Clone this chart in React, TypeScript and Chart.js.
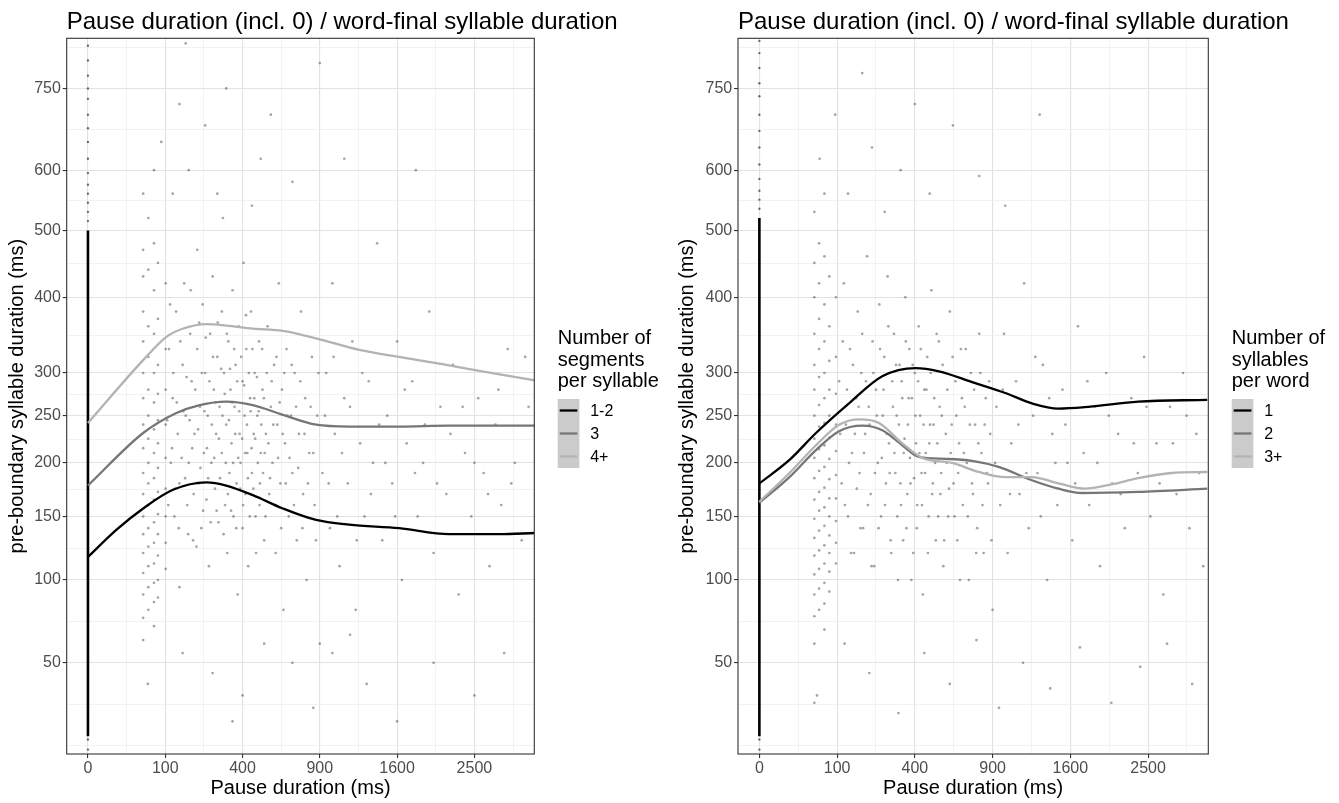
import { useEffect, useRef } from "react";
import { Chart, registerables } from "chart.js";

Chart.register(...registerables);

const FONT = "'Liberation Sans', Arial, Helvetica, sans-serif";

type Pt = [number, number];

// axis breaks (ms), both axes use a square-root scale
const X_BREAKS = [0, 100, 400, 900, 1600, 2500];
const Y_BREAKS = [50, 100, 150, 200, 250, 300, 400, 500, 600, 750];
const X_LIMITS = [-2.75, 57.75]; // sqrt(ms)
const Y_LIMITS = [3.845, 29.16]; // sqrt(ms)

const TITLE = "Pause duration (incl. 0) / word-final syllable duration";
const X_TITLE = "Pause duration (ms)";
const Y_TITLE = "pre-boundary syllable duration (ms)";

// ---- left panel: segments per syllable ----
const SEG_LABELS = ["1-2", "3", "4+"];
const SEG_12: Pt[] = [[0, 117], [14, 139], [51, 157], [121, 174], [235, 181], [320, 178], [455, 169], [636, 157], [871, 147], [1143, 143], [1621, 140], [2182, 135], [2826, 135], [3343, 136]];
const SEG_3: Pt[] = [[0, 178], [51, 231], [131, 253], [209, 262], [320, 266], [455, 262], [636, 251], [871, 240], [1143, 238], [1621, 238], [2182, 239], [2826, 239], [3343, 239]];
const SEG_4: Pt[] = [[0, 242], [51, 316], [103, 346], [152, 357], [235, 363], [320, 361], [455, 357], [636, 354], [871, 344], [1232, 329], [1621, 320], [2103, 311], [2603, 302], [3343, 291]];

const LEFT_ZERO_TOP = 500;
const LEFT_ZERO_DOTS = [16, 19, 515, 530, 545, 560, 575, 595, 620, 650, 675, 700, 730, 750, 775, 805, 835];
const LEFT_STREAKS: [number, number[]][] = [
  [51, [560, 470, 430, 380, 340, 300, 270, 240, 215, 190, 170, 150, 135, 120, 105, 90, 75, 62]],
  [61, [520, 440, 360, 320, 280, 250, 225, 200, 180, 160, 140, 125, 110, 95, 80]],
  [73, [600, 480, 410, 350, 300, 265, 235, 210, 185, 165, 145, 128, 112, 98, 85, 70]],
  [82, [450, 370, 310, 275, 245, 220, 195, 172, 152, 135, 118, 100, 88]],
  [101, [420, 330, 280, 240, 205, 175, 150, 128, 108]],
];
const LEFT_CLOUD: Pt[] = [
  [110, 330], [115, 200], [120, 560], [120, 270], [125, 150], [130, 380], [135, 230], [140, 180], [140, 95], [150, 310], [155, 420], [160, 250], [165, 160], [170, 200], [175, 350], [180, 290], [185, 130], [190, 230], [200, 470], [200, 330], [205, 180], [210, 260], [215, 140], [220, 390], [225, 210], [230, 300], [235, 165], [240, 250], [245, 110], [250, 350], [255, 200], [260, 430], [265, 280], [270, 175], [275, 230], [280, 320], [285, 145], [290, 260], [300, 380], [300, 210], [305, 520], [310, 300], [315, 160], [320, 240], [325, 120], [330, 340], [335, 190], [340, 280], [345, 220], [350, 410], [355, 150], [360, 260], [365, 310], [370, 180], [375, 90], [380, 360], [385, 230], [390, 200], [400, 290], [400, 140], [405, 450], [410, 250], [415, 170], [420, 330], [425, 210], [430, 110], [440, 270], [445, 380], [450, 190], [460, 230], [465, 300], [470, 150], [480, 250], [490, 340], [495, 180], [500, 620], [500, 210], [510, 280], [520, 130], [530, 230], [540, 360], [550, 170], [560, 260], [570, 200], [580, 310], [590, 120], [600, 240], [610, 420], [620, 180], [630, 280], [640, 80], [650, 220], [660, 330], [675, 150], [690, 250], [700, 190], [715, 300], [730, 130], [745, 230], [760, 380], [775, 170], [790, 270], [800, 100], [820, 210], [840, 320], [860, 160], [880, 250], [900, 60],
  [105, 245], [108, 160], [113, 390], [118, 215], [122, 300], [127, 175], [132, 265], [138, 140], [143, 340], [147, 205], [152, 255], [158, 185], [163, 295], [168, 135], [173, 245], [177, 410], [182, 215], [187, 170], [193, 280], [197, 125], [203, 235], [207, 365], [212, 195], [217, 300], [222, 155], [227, 255], [232, 345], [237, 215], [242, 185], [247, 290], [252, 145], [257, 240], [262, 320], [267, 205], [272, 265], [277, 155], [282, 365], [287, 225], [292, 185], [297, 305], [303, 250], [308, 135], [313, 275], [318, 200], [323, 350], [328, 170], [333, 245], [338, 305], [343, 155], [348, 265], [353, 200], [358, 330], [363, 230], [368, 140], [373, 290], [378, 205], [383, 255], [388, 175], [393, 320], [398, 225], [403, 160], [408, 285], [413, 210], [418, 375], [423, 240], [428, 185], [433, 300], [438, 150], [443, 255], [448, 215], [453, 330], [458, 175], [463, 270], [468, 225], [473, 120], [478, 295], [483, 200], [488, 255], [493, 160], [503, 240], [508, 330], [513, 190], [518, 270], [523, 210], [528, 150], [535, 300], [545, 220], [555, 185], [565, 290], [575, 240], [585, 160], [595, 320], [605, 205], [615, 265], [625, 140], [635, 230], [645, 300], [655, 180], [665, 250], [680, 205], [695, 310], [710, 160], [725, 260], [740, 195], [755, 290], [770, 140], [785, 230], [810, 180], [830, 260], [850, 210], [870, 130], [890, 300],
  [920, 190], [950, 300], [980, 140], [1000, 420], [1020, 230], [1060, 110], [1100, 270], [1130, 180], [1170, 340], [1200, 80], [1240, 220], [1280, 150], [1320, 290], [1360, 200], [1400, 480], [1450, 130], [1500, 250], [1550, 180], [1600, 340], [1650, 100], [1700, 220], [1760, 290], [1820, 150], [1880, 200], [1950, 380], [2000, 120], [2080, 260], [2150, 170], [2230, 310], [2300, 90], [2380, 210], [2460, 150], [2550, 270], [2620, 190], [2700, 110], [2780, 240], [2860, 160], [2950, 330], [3050, 200], [3150, 130], [3250, 260],
  [940, 250], [970, 180], [1010, 320], [1040, 150], [1080, 210], [1150, 260], [1210, 130], [1260, 300], [1340, 170], [1420, 240], [1480, 200], [1580, 150], [1680, 280], [1790, 190], [1900, 240], [2040, 180], [2200, 230], [2350, 260], [2500, 200], [2680, 170], [2820, 280], [3000, 180], [3200, 320],
  [60, 40], [150, 55], [260, 45], [400, 35], [520, 60], [700, 50], [850, 30], [1000, 55], [1300, 40], [1600, 25], [2000, 50], [2500, 35], [2900, 55], [350, 25], [1150, 65],
  [90, 650], [140, 720], [170, 600], [230, 680], [280, 560], [320, 750], [450, 540], [560, 700], [700, 580], [900, 800], [1100, 620], [1800, 600], [160, 840],
];

// ---- right panel: syllables per word ----
const SYL_LABELS = ["1", "2", "3+"];
const SYL_1: Pt[] = [[0, 180], [15, 203], [53, 231], [133, 264], [250, 296], [404, 306], [533, 302], [749, 289], [1001, 276], [1229, 264], [1480, 258], [1791, 260], [2375, 266], [3320, 268]];
const SYL_2: Pt[] = [[0, 162], [15, 186], [53, 213], [105, 233], [176, 239], [250, 234], [338, 218], [421, 206], [574, 204], [749, 202], [947, 196], [1229, 183], [1480, 175], [1719, 171], [2375, 172], [3320, 175]];
const SYL_3: Pt[] = [[0, 163], [15, 190], [53, 218], [105, 240], [165, 246], [237, 242], [338, 220], [439, 205], [615, 200], [796, 191], [1001, 186], [1229, 186], [1480, 180], [1755, 175], [2053, 179], [2375, 185], [2809, 190], [3320, 191]];

const RIGHT_ZERO_TOP = 520;
const RIGHT_ZERO_DOTS = [16, 19, 535, 550, 565, 585, 610, 640, 670, 700, 735, 760, 790, 820, 845];
const RIGHT_STREAKS: [number, number[]][] = [
  [50, [530, 450, 400, 350, 310, 280, 250, 225, 205, 185, 165, 148, 132, 118, 104, 90, 76, 60, 32]],
  [59, [480, 420, 370, 330, 295, 262, 238, 214, 192, 172, 155, 138, 122, 108, 94, 80]],
  [70, [560, 460, 390, 340, 300, 270, 242, 218, 196, 176, 158, 142, 126, 112, 98, 84, 68]],
  [81, [430, 360, 315, 280, 250, 226, 204, 184, 166, 150, 134, 120, 106, 92]],
  [97, [400, 320, 275, 240, 212, 188, 166, 146, 128, 112]],
];
const RIGHT_CLOUD: Pt[] = [
  [105, 290], [112, 180], [118, 420], [124, 240], [130, 150], [136, 330], [142, 210], [148, 120], [155, 270], [160, 380], [166, 190], [172, 300], [178, 140], [185, 230], [192, 460], [198, 260], [205, 170], [212, 340], [218, 110], [225, 280], [232, 200], [238, 390], [245, 150], [252, 250], [258, 320], [265, 180], [272, 430], [278, 220], [285, 130], [292, 290], [300, 350], [306, 190], [312, 250], [318, 100], [325, 310], [332, 160], [338, 270], [345, 210], [352, 400], [358, 140], [365, 240], [372, 330], [378, 180], [385, 270], [392, 120], [400, 300], [406, 220], [412, 160], [420, 360], [428, 250], [435, 190], [442, 90], [450, 280], [458, 210], [466, 320], [474, 150], [482, 240], [490, 410], [498, 180], [506, 270], [515, 130], [524, 220], [533, 340], [542, 170], [551, 250], [560, 110], [570, 300], [580, 200], [590, 150], [600, 380], [612, 240], [624, 180], [636, 290], [648, 130], [660, 220], [672, 330], [685, 160], [698, 260], [712, 200], [726, 100], [740, 300], [755, 170], [770, 240], [785, 140], [800, 350], [816, 210], [832, 120], [848, 270], [865, 180], [882, 230], [900, 80],
  [108, 230], [115, 340], [121, 160], [127, 280], [133, 200], [139, 120], [145, 310], [151, 230], [157, 175], [163, 260], [169, 140], [175, 350], [181, 210], [188, 290], [195, 160], [201, 240], [208, 110], [215, 300], [221, 190], [228, 250], [235, 140], [241, 330], [248, 205], [255, 280], [261, 160], [268, 230], [275, 360], [281, 190], [288, 120], [295, 260], [302, 210], [309, 310], [315, 150], [322, 240], [329, 180], [335, 290], [342, 130], [349, 225], [355, 340], [362, 170], [369, 270], [375, 205], [382, 100], [389, 310], [396, 185], [403, 250], [410, 140], [417, 290], [424, 210], [431, 330], [438, 160], [446, 240], [454, 190], [462, 280], [470, 120], [478, 220], [486, 300], [494, 170], [502, 240], [511, 200], [520, 350], [529, 150], [538, 260], [547, 190], [556, 310], [565, 130], [575, 230], [585, 280], [595, 175], [606, 210], [618, 320], [630, 150], [642, 250], [654, 190], [666, 100], [679, 270], [692, 210], [705, 330], [719, 150], [733, 240], [748, 180], [763, 280], [778, 120], [793, 220], [808, 300], [824, 160], [840, 240], [857, 190], [874, 290], [891, 130],
  [930, 260], [960, 160], [990, 350], [1020, 120], [1050, 220], [1090, 290], [1120, 170], [1160, 420], [1200, 140], [1240, 250], [1280, 190], [1330, 310], [1370, 100], [1420, 230], [1470, 160], [1520, 280], [1570, 200], [1620, 130], [1680, 360], [1740, 210], [1800, 160], [1860, 260], [1920, 110], [1990, 300], [2060, 180], [2130, 230], [2210, 140], [2290, 270], [2370, 190], [2450, 320], [2530, 150], [2610, 220], [2700, 90], [2790, 260], [2880, 170], [2970, 300], [3060, 140], [3160, 230], [3260, 110],
  [920, 200], [980, 280], [1040, 170], [1110, 240], [1180, 190], [1260, 320], [1310, 150], [1390, 270], [1450, 200], [1550, 240], [1650, 180], [1780, 290], [1890, 200], [2020, 250], [2160, 170], [2320, 220], [2480, 260], [2650, 180], [2830, 220], [3020, 250], [3200, 190],
  [55, 35], [120, 60], [200, 45], [320, 28], [450, 55], [600, 40], [780, 62], [950, 30], [1150, 50], [1400, 38], [1700, 58], [2050, 32], [2400, 48], [2750, 60], [3100, 40],
  [60, 620], [95, 700], [130, 560], [175, 780], [210, 640], [260, 530], [330, 600], [400, 720], [480, 560], [620, 680], [800, 590], [1000, 540], [1300, 700], [170, 860],
];

const LINE_COLORS = ["#000000", "#767676", "#B3B3B3"];

const PLOT_TOP = 38.3;
const PLOT_BOTTOM = 754;
const FIG_H = 803;

const sq = (v: number) => Math.sqrt(v);
const toXY = (p: Pt) => ({ x: sq(p[0]), y: sq(p[1]) });

// minor breaks: midpoints between majors in sqrt space (ggplot style)
function sqrtTicks(breaks: number[], lim: number[]) {
  const major = breaks.map(sq);
  const ext = [major[0] - (major[1] - major[0]), ...major, major[major.length - 1] + (major[major.length - 1] - major[major.length - 2])];
  const minor: number[] = [];
  for (let i = 0; i < ext.length - 1; i++) minor.push((ext[i] + ext[i + 1]) / 2);
  minor.push(ext[0], ext[ext.length - 1]);
  return [...minor, ...major].filter((v) => v >= lim[0] && v <= lim[1]).sort((a, b) => a - b);
}

function isMajor(v: number, breaks: number[]) {
  return breaks.some((b) => Math.abs(sq(b) - v) < 1e-6);
}

function scaleOptions(axis: "x" | "y", breaks: number[], lim: number[], fit: number) {
  const ticks = sqrtTicks(breaks, lim);
  return {
    type: "linear",
    position: axis === "x" ? "bottom" : "left",
    min: lim[0],
    max: lim[1],
    bounds: "data",
    afterBuildTicks: (s: any) => {
      s.ticks = ticks.map((v) => ({ value: v }));
    },
    afterFit: (s: any) => {
      if (axis === "x") s.height = fit;
      else s.width = fit;
    },
    border: { display: false },
    grid: {
      color: (c: any) => (c.tick && isMajor(c.tick.value, breaks) ? "#E2E2E2" : "#EFEFEF"),
      lineWidth: (c: any) => (c.tick && isMajor(c.tick.value, breaks) ? 1.1 : 0.8),
      tickColor: (c: any) => (c.tick && isMajor(c.tick.value, breaks) ? "#333333" : "rgba(0,0,0,0)"),
      tickWidth: 1.1,
      tickLength: 4,
      drawTicks: true,
    },
    ticks: {
      autoSkip: false,
      maxRotation: 0,
      padding: axis === "x" ? 0.5 : 1.8,
      color: "#4D4D4D",
      font: { family: FONT, size: 16 },
      callback: (v: number) => {
        const b = breaks.find((bb) => Math.abs(sq(bb) - v) < 1e-6);
        return b === undefined ? "" : String(b);
      },
    },
    title: {
      display: true,
      text: axis === "x" ? X_TITLE : Y_TITLE,
      color: "#000000",
      font: { family: FONT, size: 20 },
      padding: axis === "x" ? { top: 0, bottom: 3 } : { top: 5.5, bottom: 0 },
    },
  };
}

interface PanelProps {
  left: number;
  width: number;
  plotLeft: number;
  plotRight: number;
  labels: string[];
  curves: Pt[][];
  cloud: Pt[];
  streaks: [number, number[]][];
  zeroTop: number;
  zeroDots: number[];
  legendTitle: string[];
}

function Panel(props: PanelProps) {
  const canvasRef = useRef<HTMLCanvasElement | null>(null);
  const chartRef = useRef<Chart | null>(null);

  useEffect(() => {
    if (!canvasRef.current) return;
    if (chartRef.current) chartRef.current.destroy();

    const { width, plotLeft, plotRight, labels, curves, cloud, streaks, zeroTop, zeroDots, legendTitle } = props;
    const legendX = plotRight + 23.4;

    // panel border, title and ggplot-like legend
    const decor = {
      id: "ggDecor",
      afterDraw(chart: any) {
        const ctx = chart.ctx as CanvasRenderingContext2D;
        const a = chart.chartArea;
        ctx.save();
        ctx.strokeStyle = "#333333";
        ctx.lineWidth = 1.1;
        ctx.strokeRect(a.left, a.top, a.right - a.left, a.bottom - a.top);

        ctx.fillStyle = "#000000";
        ctx.textAlign = "left";
        ctx.textBaseline = "alphabetic";
        ctx.font = `24px ${FONT}`;
        ctx.fillText(TITLE, a.left, 29);

        ctx.font = `20px ${FONT}`;
        legendTitle.forEach((t, i) => ctx.fillText(t, legendX, 344.3 + i * 21.2));

        ctx.fillStyle = "#CBCBCB";
        ctx.fillRect(legendX, 399, 21.7, 69);
        labels.forEach((lab, i) => {
          const cy = 410.5 + i * 23;
          ctx.strokeStyle = LINE_COLORS[i];
          ctx.lineWidth = 2.3;
          ctx.beginPath();
          ctx.moveTo(legendX + 2, cy);
          ctx.lineTo(legendX + 19.7, cy);
          ctx.stroke();
          ctx.fillStyle = "#000000";
          ctx.font = `16px ${FONT}`;
          ctx.fillText(lab, legendX + 32.5, cy + 5.7);
        });
        ctx.restore();
      },
    };

    const streakPts = streaks.flatMap(([x, ys]) => ys.map((y) => toXY([x, y])));

    const datasets: any[] = [
      {
        label: "zero",
        data: [toXY([0, 20]), toXY([0, zeroTop])],
        showLine: true,
        borderColor: "#000000",
        borderWidth: 2.6,
        pointRadius: 0,
        order: 10,
      },
      {
        label: "zero dots",
        data: zeroDots.map((y) => toXY([0, y])),
        pointRadius: 1.2,
        borderWidth: 0,
        backgroundColor: "rgba(0,0,0,0.55)",
        order: 10,
      },
      {
        label: "cloud",
        data: [...streakPts, ...cloud.map(toXY)],
        pointRadius: 1.35,
        borderWidth: 0,
        backgroundColor: "rgba(55,55,55,0.45)",
        order: 9,
      },
      ...curves.map((c, i) => ({
        label: labels[i],
        data: c.map(toXY),
        showLine: true,
        borderColor: LINE_COLORS[i],
        borderWidth: 2.3,
        pointRadius: 0,
        cubicInterpolationMode: "monotone",
        order: 2 - i,
      })),
    ];

    chartRef.current = new Chart(canvasRef.current, {
      type: "scatter",
      data: { datasets },
      options: {
        animation: false,
        responsive: true,
        maintainAspectRatio: false,
        events: [],
        layout: { padding: { top: PLOT_TOP, right: width - plotRight, bottom: 0, left: 0 } },
        plugins: { legend: { display: false }, tooltip: { enabled: false }, title: { display: false } },
        scales: {
          x: scaleOptions("x", X_BREAKS, X_LIMITS, FIG_H - PLOT_BOTTOM),
          y: scaleOptions("y", Y_BREAKS, Y_LIMITS, plotLeft),
        },
      } as any,
      plugins: [decor as any],
    });

    return () => {
      if (chartRef.current) {
        chartRef.current.destroy();
        chartRef.current = null;
      }
    };
  }, []);

  return (
    <div style={{ position: "absolute", left: props.left, top: 0, width: props.width, height: FIG_H }}>
      <canvas ref={canvasRef} />
    </div>
  );
}

export default function App() {
  return (
    <div style={{ position: "absolute", left: 0, top: 0, width: 1339, height: FIG_H, background: "#ffffff", overflow: "hidden" }}>
      <Panel
        left={0}
        width={670}
        plotLeft={66.7}
        plotRight={534.3}
        labels={SEG_LABELS}
        curves={[SEG_12, SEG_3, SEG_4]}
        cloud={LEFT_CLOUD}
        streaks={LEFT_STREAKS}
        zeroTop={LEFT_ZERO_TOP}
        zeroDots={LEFT_ZERO_DOTS}
        legendTitle={["Number of", "segments", "per syllable"]}
      />
      <Panel
        left={670}
        width={669}
        plotLeft={68}
        plotRight={538.3}
        labels={SYL_LABELS}
        curves={[SYL_1, SYL_2, SYL_3]}
        cloud={RIGHT_CLOUD}
        streaks={RIGHT_STREAKS}
        zeroTop={RIGHT_ZERO_TOP}
        zeroDots={RIGHT_ZERO_DOTS}
        legendTitle={["Number of", "syllables", "per word"]}
      />
    </div>
  );
}
